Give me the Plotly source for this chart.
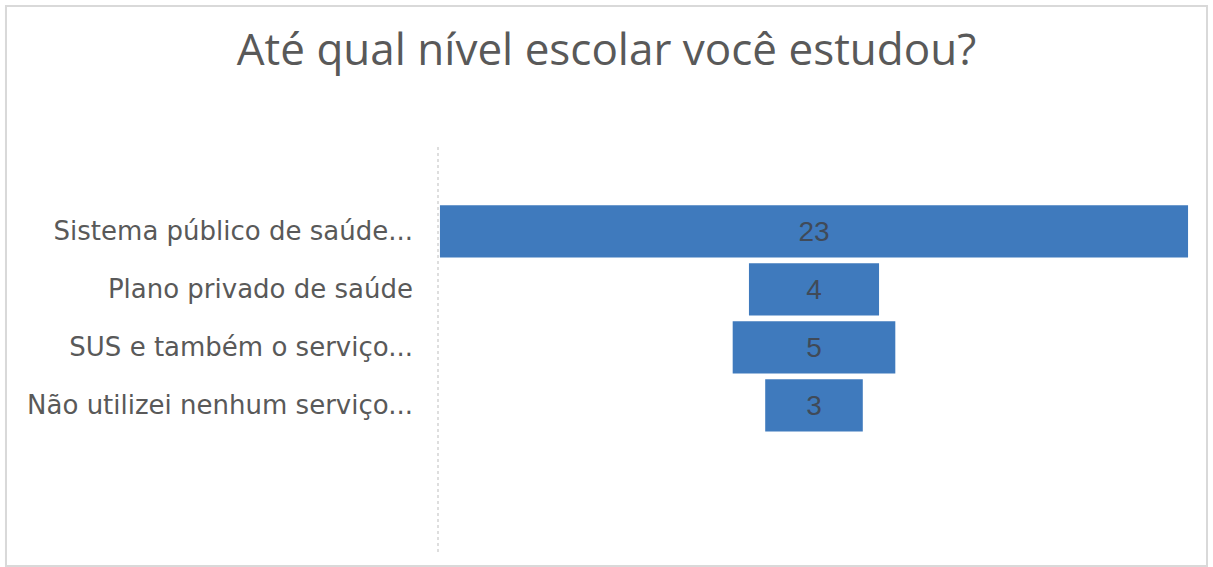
import plotly.graph_objects as go

categorias = [
    "Sistema público de saúde...",
    "Plano privado de saúde",
    "SUS e também o serviço...",
    "Não utilizei nenhum serviço...",
]
respostas = [23, 4, 5, 3]

fig = go.Figure(
    go.Funnel(
        y=categorias,
        x=respostas,
        text=[str(v) for v in respostas],
        textinfo="text",
        textposition="inside",
        insidetextanchor="middle",
        textfont=dict(family="Liberation Sans, Arial, sans-serif", size=28, color="#404a58"),
        marker=dict(color="#3f7abd", line=dict(width=0)),
        connector=dict(visible=False),
        width=0.9,
        hoverinfo="y+x",
    )
)

# chart frame and dotted category axis line
fig.add_shape(type="rect", xref="paper", yref="paper",
              x0=-0.5745, x1=1.0226, y0=-0.0344, y1=1.3415,
              line=dict(color="#d9d9d9", width=2), fillcolor="rgba(0,0,0,0)", layer="below")
fig.add_shape(type="line", xref="paper", yref="paper",
              x0=0, x1=0, y0=0, y1=1,
              line=dict(color="#c8c8c8", width=1.2, dash="dot"))

fig.update_layout(
    width=1213,
    height=567,
    margin=dict(l=438, r=23, t=145, b=15),
    paper_bgcolor="#ffffff",
    plot_bgcolor="#ffffff",
    showlegend=False,
    title=dict(
        text="Até qual nível escolar você estudou?",
        x=0.5, xanchor="center", xref="container",
        y=0.912, yanchor="middle", yref="container",
        font=dict(family="Open Sans, sans-serif", size=44, color="#595959"),
    ),
    xaxis=dict(range=[-11.56, 11.56], visible=False, fixedrange=True),
    yaxis=dict(
        range=[5.53, -1.49],
        showgrid=False, zeroline=False, showline=False, ticks="",
        ticklabelstandoff=24,
        tickfont=dict(family="DejaVu Sans, sans-serif", size=26, color="#595959"),
    ),
)

fig.write_html("out.html")
